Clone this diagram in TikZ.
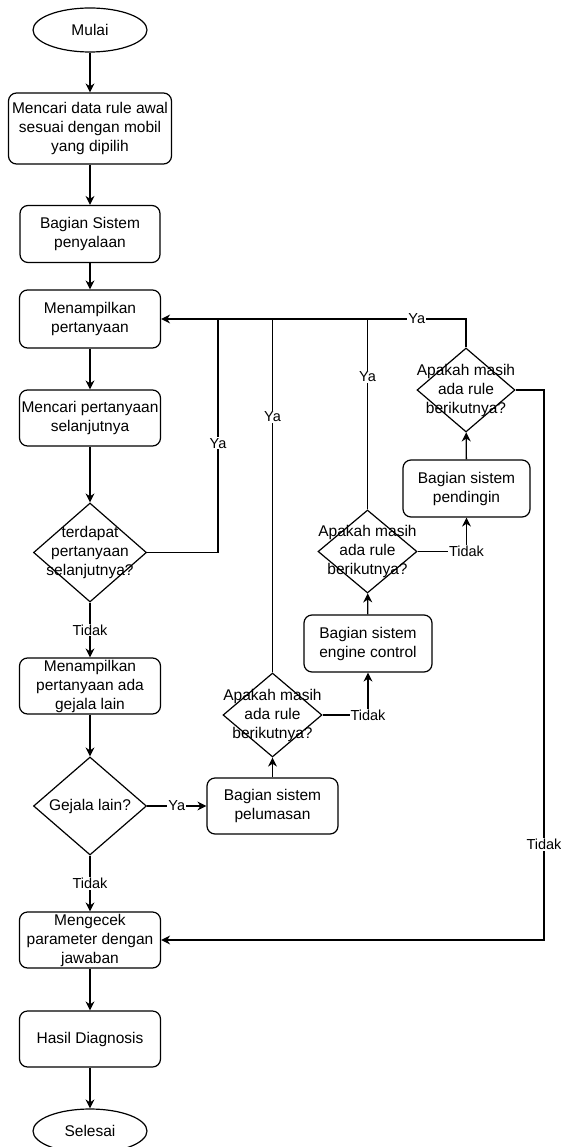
\documentclass[tikz,border=0pt]{standalone}
\usepackage{fontspec}
\setmainfont{Liberation Sans}
\usetikzlibrary{shapes.geometric,arrows.meta,calc}
\begin{document}
\begin{tikzpicture}[x=1pt,y=-1pt,
  every node/.style={font=\fontsize{15.5}{19}\selectfont, align=center},
  boxnode/.style={draw, line width=1.2pt, rounded corners=8pt, minimum width=141pt, minimum height=56pt, inner sep=0pt},
  termnode/.style={draw, line width=1.2pt, ellipse, minimum width=114pt, minimum height=44pt, inner sep=0pt},
  decnode/.style={draw, line width=1.2pt, diamond, inner sep=0pt},
  dtext/.style={font=\fontsize{15.5}{19}\selectfont, align=center, inner sep=0pt},
  lbl/.style={fill=white, inner sep=1pt, font=\fontsize{14.5}{17}\selectfont},
  flow/.style={line width=1.3pt, -{Stealth[length=9pt,width=9pt]}},
  plain/.style={line width=1.3pt}
]
\useasboundingbox (0,0) rectangle (561,1147);

\node[termnode] (mulai) at (90,30) {Mulai};
\node[boxnode, minimum width=163pt, minimum height=71pt] (b1) at (90,128.5) {Mencari data rule awal\\sesuai dengan mobil\\yang dipilih};
\node[boxnode, minimum width=140pt, minimum height=57pt] (b2) at (90,234) {Bagian Sistem\\penyalaan};
\node[boxnode, minimum height=58pt] (b3) at (90,319) {Menampilkan\\pertanyaan};
\node[boxnode] (b4) at (90,418) {Mencari pertanyaan\\selanjutnya};
\node[decnode, minimum width=113pt, minimum height=99pt, label={[dtext]center:{terdapat\\pertanyaan\\selanjutnya?}}] (d1) at (90,552.5) {};
\node[boxnode] (b5) at (90,686) {Menampilkan\\pertanyaan ada\\gejala lain};
\node[decnode, minimum width=113pt, minimum height=98pt, label={[dtext]center:{Gejala lain?}}] (d2) at (90,806) {};
\node[boxnode, minimum width=131pt] (pel) at (272.5,806) {Bagian sistem\\pelumasan};
\node[decnode, minimum width=99pt, minimum height=84pt, label={[dtext]center:{Apakah masih\\ada rule\\berikutnya?}}] (d3) at (272.5,715) {};
\node[boxnode, minimum width=128pt, minimum height=57pt] (eng) at (368,643.5) {Bagian sistem\\engine control};
\node[decnode, minimum width=99pt, minimum height=83pt, label={[dtext]center:{Apakah masih\\ada rule\\berikutnya?}}] (d4) at (367.5,551.5) {};
\node[boxnode, minimum width=127pt, minimum height=57pt] (pend) at (466.5,488.5) {Bagian sistem\\pendingin};
\node[decnode, minimum width=98pt, minimum height=84pt, label={[dtext]center:{Apakah masih\\ada rule\\berikutnya?}}] (d5) at (466,390) {};
\node[boxnode] (cek) at (90,940) {Mengecek\\parameter dengan\\jawaban};
\node[boxnode] (hasil) at (90,1039) {Hasil Diagnosis};
\node[termnode] (selesai) at (90,1131) {Selesai};

\coordinate (j1) at (218,319);
\coordinate (j2) at (272.5,319);
\coordinate (j3) at (367.5,319);
\coordinate (r1) at (544,940);

\draw[flow] (mulai) -- (b1);
\draw[flow] (b1) -- (b2);
\draw[flow] (b2) -- (b3);
\draw[flow] (b3) -- (b4);
\draw[flow] (b4) -- (d1);
\draw[flow] (d1.south) -- node[lbl] {Tidak} (b5.north);
\draw[flow] (d1.east) -| node[lbl, pos=0.734] {Ya} (j1) -- (b3.east);
\draw[flow] (b5) -- (d2);
\draw[flow] (d2.east) -- node[lbl] {Ya} (pel.west);
\draw[flow] (d2.south) -- node[lbl] {Tidak} (cek.north);
\draw[flow] (pel) -- (d3);
\draw[plain] (d3.north) -- node[lbl, pos=0.723] {Ya} (j2) -- (j1);
\draw[flow] (d3.east) -| node[lbl, pos=0.5] {Tidak} (eng.south);
\draw[flow] (eng) -- (d4);
\draw[plain] (d4.north) -- node[lbl, pos=0.696] {Ya} (j3) -- (j2);
\draw[flow] (d4.east) -| node[lbl, pos=0.5] {Tidak} (pend.south);
\draw[flow] (pend) -- (d5);
\draw[plain] (d5.north) |- node[lbl, pos=0.75] {Ya} (j3);
\draw[flow] (d5.east) -| node[lbl, pos=0.913] {Tidak} (r1) -- (cek.east);
\draw[flow] (cek) -- (hasil);
\draw[flow] (hasil) -- (selesai);
\end{tikzpicture}
\end{document}
